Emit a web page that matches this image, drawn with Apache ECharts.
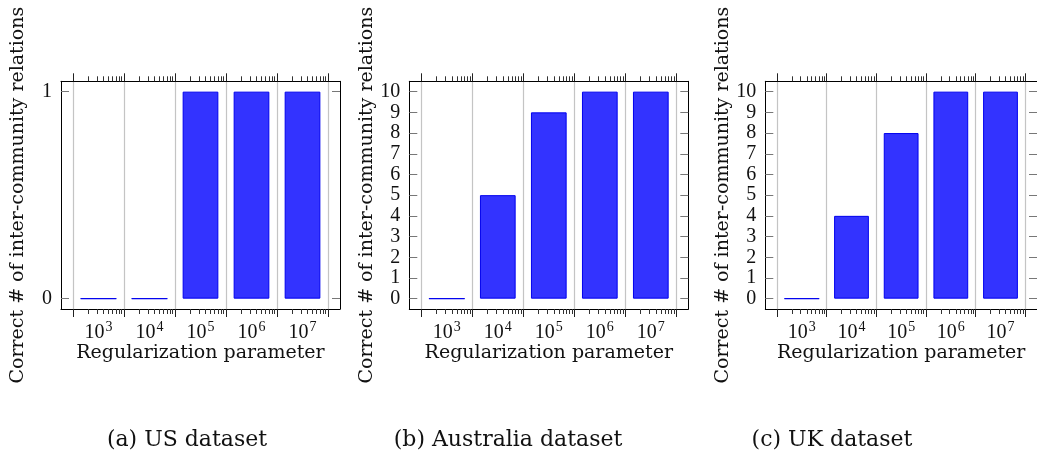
<!DOCTYPE html>
<html>
<head>
<meta charset="utf-8">
<script src="https://cdn.jsdelivr.net/npm/echarts@6/dist/echarts.min.js"></script>
<style>
html,body{margin:0;padding:0;background:#fff;}
#chart{width:1037px;height:459px;}
</style>
</head>
<body>
<div id="chart"></div>
<script>
// Data: exponent k of regularization parameter 10^k
const exponents = [3, 4, 5, 6, 7];
const usValues = [0, 0, 1, 1, 1];
const australiaValues = [0, 5, 9, 10, 10];
const ukValues = [0, 4, 8, 10, 10];
const captions = ['(a) US dataset', '(b) Australia dataset', '(c) UK dataset'];
const yTicksUS = [0, 1];
const yTicksOther = [0, 1, 2, 3, 4, 5, 6, 7, 8, 9, 10];
const xLabel = 'Regularization parameter';
const yLabel = 'Correct # of inter-community relations';

const panels = [
  {values: usValues, yTicks: yTicksUS, ymin: -0.05, ymax: 1.05, left: 61},
  {values: australiaValues, yTicks: yTicksOther, ymin: -0.5, ymax: 10.5, left: 409.3},
  {values: ukValues, yTicks: yTicksOther, ymin: -0.5, ymax: 10.5, left: 765.3}
];
const captionX = [187, 508, 832];

// decade boundaries (grid lines) and log minor ticks between them
const majorX = exponents.map(k => k - 0.5).concat([exponents[exponents.length - 1] + 0.5]);
const minorX = [];
exponents.forEach(k => {
  for (let m = 2; m <= 9; m++) minorX.push(k - 0.5 + Math.log10(m));
});
const xMin = exponents[0] - 0.5 - 0.235;
const xMax = exponents[exponents.length - 1] + 0.5 + 0.235;

const wordFont = 'DejaVu Serif';
const numFont = 'Liberation Serif';

const grids = [], xAxes = [], yAxes = [], series = [], graphics = [];
panels.forEach((p, i) => {
  grids.push({left: p.left, top: 81.3, width: 279, height: 227.7, containLabel: false});
  const base = {type: 'value', gridIndex: i, min: xMin, max: xMax, splitLine: {show: false}};
  // main bottom axis with labels + grid lines
  xAxes.push(Object.assign({}, base, {
    position: 'bottom',
    axisLine: {show: true, onZero: false, lineStyle: {color: '#000', width: 1}},
    axisTick: {show: true, inside: false, length: 8, customValues: majorX, lineStyle: {color: '#222', width: 1}},
    splitLine: {show: true, lineStyle: {color: '#c4c4c4', width: 1.2}},
    axisLabel: {
      customValues: exponents, margin: 11,
      formatter: v => '{b|10}{s|' + v + '}',
      rich: {
        b: {fontFamily: numFont, fontSize: 20, color: '#111'},
        s: {fontFamily: numFont, fontSize: 14, color: '#111', padding: [0, 0, 12, 1]}
      }
    },
    name: xLabel, nameLocation: 'middle', nameGap: 30,
    nameTextStyle: {fontFamily: wordFont, fontSize: 19, color: '#111'}
  }));
  // bottom minor ticks
  xAxes.push(Object.assign({}, base, {
    position: 'bottom',
    axisLine: {show: false, onZero: false},
    axisTick: {show: true, inside: false, length: 5, customValues: minorX, lineStyle: {color: '#333', width: 1}},
    axisLabel: {show: false}
  }));
  // top major ticks + box line
  xAxes.push(Object.assign({}, base, {
    position: 'top',
    axisLine: {show: true, onZero: false, lineStyle: {color: '#000', width: 1}},
    axisTick: {show: true, inside: false, length: 8, customValues: majorX, lineStyle: {color: '#222', width: 1}},
    axisLabel: {show: false}
  }));
  // top minor ticks
  xAxes.push(Object.assign({}, base, {
    position: 'top',
    axisLine: {show: false, onZero: false},
    axisTick: {show: true, inside: false, length: 5, customValues: minorX, lineStyle: {color: '#333', width: 1}},
    axisLabel: {show: false}
  }));
  yAxes.push({
    type: 'value', gridIndex: i, position: 'left', min: p.ymin, max: p.ymax,
    axisLine: {show: true, onZero: false, lineStyle: {color: '#000', width: 1}},
    axisTick: {show: true, inside: true, length: 8, customValues: p.yTicks, lineStyle: {color: '#777', width: 1}},
    axisLabel: {customValues: p.yTicks, margin: 9, fontFamily: numFont, fontSize: 20, color: '#111'},
    splitLine: {show: false},
    name: yLabel, nameLocation: 'middle', nameGap: 33, nameRotate: 90,
    nameTextStyle: {fontFamily: wordFont, fontSize: 19, color: '#111'}
  });
  yAxes.push({
    type: 'value', gridIndex: i, position: 'right', min: p.ymin, max: p.ymax,
    axisLine: {show: true, onZero: false, lineStyle: {color: '#000', width: 1}},
    axisTick: {show: true, inside: true, length: 8, customValues: p.yTicks, lineStyle: {color: '#777', width: 1}},
    axisLabel: {show: false},
    splitLine: {show: false}
  });
  series.push({
    type: 'bar', xAxisIndex: i * 4, yAxisIndex: i * 2,
    data: exponents.map((k, j) => [k, p.values[j]]),
    barWidth: '70%',
    itemStyle: {color: 'rgb(51,51,255)', borderColor: '#0000ee', borderWidth: 1},
    animation: false, silent: true
  });
  graphics.push({
    type: 'text', x: captionX[i], y: 440,
    style: {text: captions[i], fontFamily: wordFont, fontSize: 22, fill: '#111', textAlign: 'center', textVerticalAlign: 'middle'}
  });
});

const chart = echarts.init(document.getElementById('chart'), null, {renderer: 'canvas'});
chart.setOption({
  animation: false,
  backgroundColor: '#fff',
  grid: grids, xAxis: xAxes, yAxis: yAxes, series: series,
  graphic: graphics
});
</script>
</body>
</html>
